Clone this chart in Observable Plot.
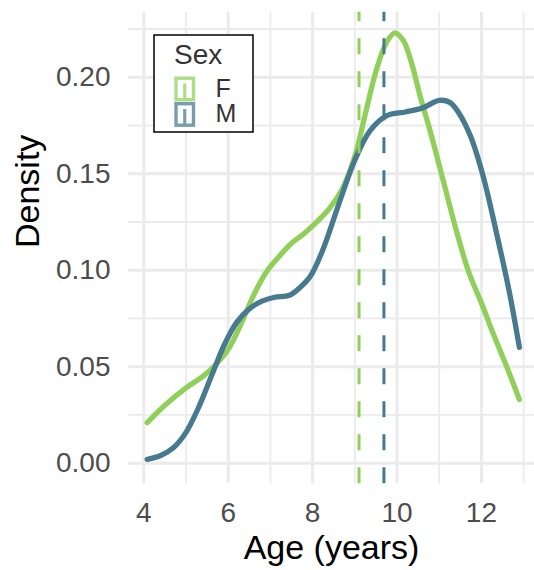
<!DOCTYPE html>
<html><head><meta charset="utf-8">
<script src="https://cdn.jsdelivr.net/npm/d3@7"></script>
<script src="https://cdn.jsdelivr.net/npm/@observablehq/plot@0.6"></script>
<style>
body{margin:0;background:#fff;}
#wrap{position:relative;width:534px;height:570px;}
#wrap svg{position:absolute;left:0;top:0;}
</style></head><body><div id="wrap"></div>
<script>
// ---- data ----
const sexes = ["F", "M"];
const colors = ["#90d05a", "#477a8e"];
const meanAge = [9.1, 9.69];
const ageF  = [4.08,4.5,5.0,5.4,5.7,6.0,6.3,6.6,6.9,7.2,7.5,7.8,8.1,8.4,8.7,9.0,9.25,9.5,9.75,9.95,10.15,10.35,10.55,10.8,11.1,11.4,11.7,12.0,12.3,12.6,12.9];
const densF = [0.021,0.030,0.039,0.045,0.051,0.059,0.072,0.087,0.099,0.107,0.114,0.119,0.125,0.132,0.142,0.159,0.181,0.203,0.218,0.223,0.219,0.207,0.190,0.171,0.146,0.121,0.099,0.083,0.066,0.050,0.033];
const ageM  = [4.08,4.4,4.7,5.0,5.3,5.6,5.9,6.2,6.5,6.8,7.1,7.45,7.7,7.95,8.25,8.6,9.0,9.35,9.75,10.2,10.6,11.0,11.25,11.45,11.75,12.05,12.35,12.65,12.9];
const densM = [0.002,0.004,0.008,0.016,0.029,0.045,0.061,0.073,0.080,0.084,0.086,0.087,0.091,0.097,0.111,0.133,0.157,0.172,0.180,0.182,0.184,0.188,0.187,0.182,0.169,0.148,0.120,0.090,0.060];
const xMajor = [4, 6, 8, 10, 12];
const xMinor = [5, 7, 9, 11, 13];
const yMajor = [0, 0.05, 0.10, 0.15, 0.20];
const yMinor = [0.025, 0.075, 0.125, 0.175, 0.225];
const xTitle = "Age (years)";
const yTitle = "Density";
const legendTitle = "Sex";

const xDomain = [3.637, 13.258];
const yDomain = [-0.01067, 0.2337];

const curves = [
  ...ageF.map((a, i) => ({sex: "F", age: a, density: densF[i]})),
  ...ageM.map((a, i) => ({sex: "M", age: a, density: densM[i]}))
];
const means = sexes.map((s, i) => ({sex: s, mean: meanAge[i]}));
const font = "'Liberation Sans', Arial, Helvetica, sans-serif";

const chart = Plot.plot({
  width: 534, height: 570,
  marginLeft: 128, marginRight: 0, marginTop: 11.7, marginBottom: 86.7,
  style: {fontFamily: font, background: "transparent"},
  x: {domain: xDomain},
  y: {domain: yDomain},
  color: {domain: sexes, range: colors},
  marks: [
    Plot.ruleX(xMinor, {stroke: "#ebebeb", strokeWidth: 1.8}),
    Plot.ruleY(yMinor, {stroke: "#ebebeb", strokeWidth: 1.8}),
    Plot.ruleX(xMajor, {stroke: "#ebebeb", strokeWidth: 3}),
    Plot.ruleY(yMajor, {stroke: "#ebebeb", strokeWidth: 3}),
    Plot.line(curves, {x: "age", y: "density", z: "sex", stroke: "sex", strokeWidth: 5.3, curve: "catmull-rom"}),
    Plot.ruleX(means, {x: "mean", y1: () => yDomain[0], y2: () => yDomain[1], stroke: "sex", strokeWidth: 3, strokeDasharray: "16,17"}),
    Plot.axisX(xMajor, {tickSize: 0, tickPadding: 18, fontSize: 28, color: "#4d4d4d", label: null, tickFormat: d => String(d)}),
    Plot.axisY(yMajor, {tickSize: 0, tickPadding: 18, fontSize: 28, color: "#4d4d4d", label: null, tickFormat: d3.format(".2f")}),
    Plot.text([xTitle], {frameAnchor: "bottom", text: d => d, dy: 75, lineAnchor: "bottom", fontSize: 34, fill: "#000"}),
    Plot.text([yTitle], {frameAnchor: "left", text: d => d, dx: -89.7, rotate: -90, lineAnchor: "bottom", fontSize: 34, fill: "#000"})
  ]
});
document.getElementById("wrap").appendChild(chart);

// ---- legend ----
const lg = d3.select("#wrap").append("svg").attr("width", 534).attr("height", 570)
  .style("font-family", font).style("pointer-events", "none");
lg.append("rect").attr("x", 154).attr("y", 35).attr("width", 99).attr("height", 97)
  .attr("fill", "#fff").attr("stroke", "#000").attr("stroke-width", 1.5);
lg.append("text").attr("x", 174).attr("y", 64).attr("font-size", 28).attr("fill", "#333").text(legendTitle);
sexes.forEach((s, i) => {
  const ky = 76.5 + i * 25.5;
  const g = lg.append("g").attr("opacity", 0.72);
  g.append("rect").attr("x", 176).attr("y", ky + 1.7).attr("width", 17.5).attr("height", 21.5)
    .attr("fill", "#fff").attr("stroke", colors[i]).attr("stroke-width", 3.4);
  g.append("line").attr("x1", 184.75).attr("x2", 184.75).attr("y1", ky + 23.5).attr("y2", ky + 7)
    .attr("stroke", colors[i]).attr("stroke-width", 3.2);
  lg.append("text").attr("x", 215.5).attr("y", ky + 20).attr("font-size", 25).attr("fill", "#333").text(s);
});
</script></body></html>
